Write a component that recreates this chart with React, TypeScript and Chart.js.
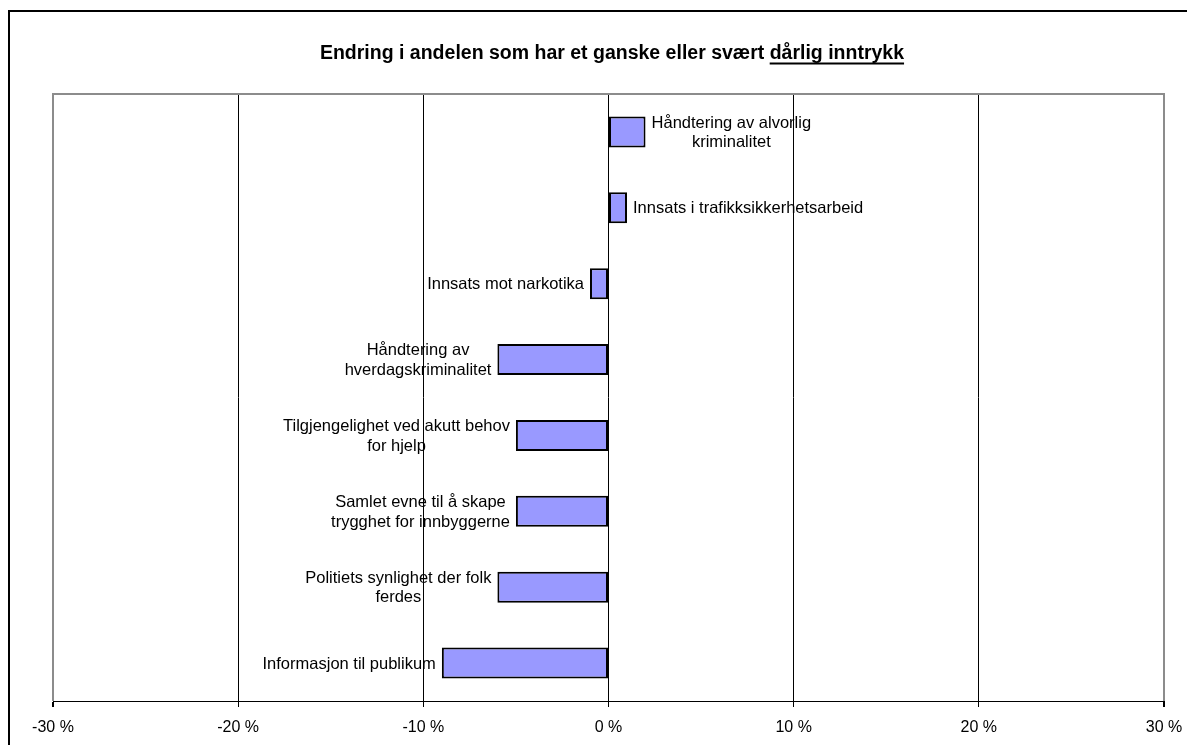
import React, { useEffect, useRef } from "react";
import { Chart, registerables } from "chart.js";

Chart.register(...registerables);

const categories: string[][] = [
  ["Håndtering av alvorlig", "kriminalitet"],
  ["Innsats i trafikksikkerhetsarbeid"],
  ["Innsats mot narkotika"],
  ["Håndtering av", "hverdagskriminalitet"],
  ["Tilgjengelighet ved akutt behov", "for hjelp"],
  ["Samlet evne til å skape", "trygghet for innbyggerne"],
  ["Politiets synlighet der folk", "ferdes"],
  ["Informasjon til publikum"],
];
const changeValues: number[] = [2, 1, -1, -6, -5, -5, -6, -9];
const xTicks: number[] = [-30, -20, -10, 0, 10, 20, 30];
const titleMain = "Endring i andelen som har et ganske eller svært ";
const titleUnderlined = "dårlig inntrykk";

const FONT = '"Liberation Sans", Arial, sans-serif';

const decorPlugin = {
  id: "decor",
  beforeDraw(chart: any) {
    const ctx = chart.ctx;
    ctx.save();
    ctx.fillStyle = "#ffffff";
    ctx.fillRect(0, 0, chart.width, chart.height);
    ctx.fillStyle = "#000000";
    ctx.fillRect(0, 2, chart.width, 2);
    ctx.fillRect(0, 2, 2, chart.height);
    // title
    ctx.font = `bold 19.5px ${FONT}`;
    ctx.textBaseline = "middle";
    ctx.textAlign = "left";
    const w1 = ctx.measureText(titleMain).width;
    const w2 = ctx.measureText(titleUnderlined).width;
    const cx = 604;
    const x0 = cx - (w1 + w2) / 2;
    ctx.fillText(titleMain, x0, 46);
    ctx.fillText(titleUnderlined, x0 + w1, 46);
    ctx.fillRect(x0 + w1, 54.5, w2, 2);
    ctx.restore();
  },
  afterDraw(chart: any) {
    const ctx = chart.ctx;
    const a = chart.chartArea;
    ctx.save();
    ctx.strokeStyle = "#8c8c8c";
    ctx.lineWidth = 2;
    ctx.beginPath();
    ctx.moveTo(a.left - 1, a.top);
    ctx.lineTo(a.right + 1, a.top);
    ctx.stroke();
    // data labels
    const meta = chart.getDatasetMeta(0);
    ctx.font = `16.5px ${FONT}`;
    ctx.fillStyle = "#000000";
    ctx.textAlign = "center";
    ctx.textBaseline = "middle";
    const lh = 19.5;
    meta.data.forEach((bar: any, i: number) => {
      const lines = categories[i];
      const maxW = Math.max(...lines.map((l) => ctx.measureText(l).width));
      const v = changeValues[i];
      const cx = v >= 0 ? bar.x + 6 + maxW / 2 : bar.x - 6 - maxW / 2;
      const y0 = bar.y - ((lines.length - 1) * lh) / 2;
      lines.forEach((l, j) => ctx.fillText(l, cx, y0 + j * lh + 1));
    });
    ctx.restore();
  },
};

export default function App() {
  const ref = useRef<HTMLCanvasElement | null>(null);
  useEffect(() => {
    if (!ref.current) return;
    const isEdge = (c: any) =>
      c.tick && (c.tick.value === xTicks[0] || c.tick.value === xTicks[xTicks.length - 1]);
    const chart = new Chart(ref.current, {
      type: "bar",
      data: {
        labels: categories.map((c) => c.join(" ")),
        datasets: [
          {
            data: changeValues,
            backgroundColor: "#9999ff",
            borderColor: "#000000",
            borderWidth: 2,
            borderSkipped: false,
            barPercentage: 0.41,
            categoryPercentage: 1,
          },
        ],
      },
      options: {
        indexAxis: "y",
        responsive: false,
        animation: false,
        layout: { padding: { top: 86, left: 45, right: 23, bottom: 0 } },
        plugins: {
          legend: { display: false },
          tooltip: { enabled: false },
          title: { display: false },
        },
        scales: {
          x: {
            min: xTicks[0],
            max: xTicks[xTicks.length - 1],
            afterBuildTicks: (s: any) => {
              s.ticks = xTicks.map((v) => ({ value: v }));
            },
            afterFit: (s: any) => {
              s.height = 44;
              s.paddingLeft = 0;
              s.paddingRight = 0;
            },
            ticks: {
              callback: (v: any) => `${v} %`,
              color: "#000000",
              font: { family: FONT, size: 16 },
              padding: 11,
              maxRotation: 0,
            },
            grid: {
              color: (c: any) => (isEdge(c) ? "#8c8c8c" : "#000000"),
              lineWidth: (c: any) => (isEdge(c) ? 2 : 1),
              tickColor: "#000000",
              tickLength: 6,
              drawTicks: true,
            },
            border: { display: true, color: "#000000", width: 1 },
          },
          y: {
            display: false,
            offset: true,
          },
        },
      },
      plugins: [decorPlugin],
    } as any);
    return () => chart.destroy();
  }, []);
  return (
    <div style={{ width: 1179, height: 737 }}>
      <canvas ref={ref} width={1179} height={737} style={{ display: "block" }} />
    </div>
  );
}
